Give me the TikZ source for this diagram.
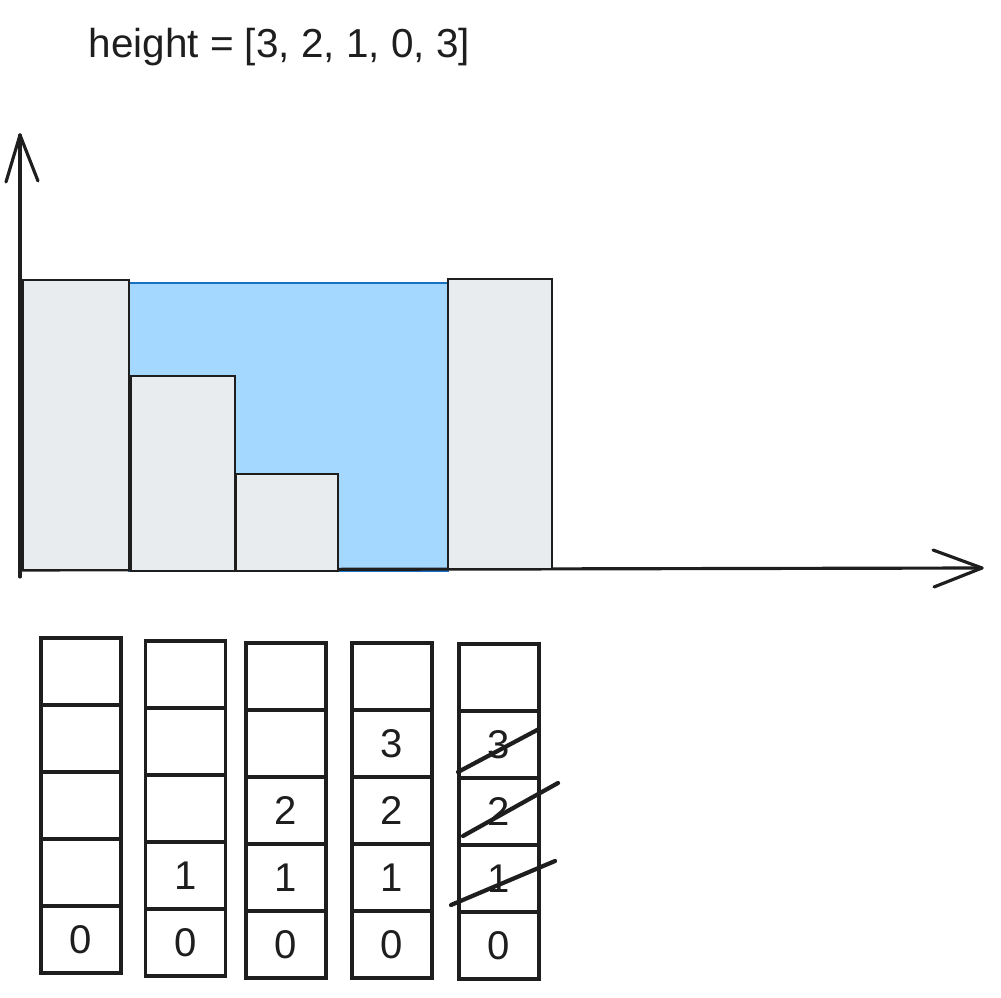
\documentclass[tikz,border=0pt]{standalone}
\usepackage{fontspec}
\setmainfont{Liberation Sans}
\definecolor{barfill}{HTML}{E9ECEF}
\definecolor{waterfill}{HTML}{A5D8FF}
\definecolor{waterline}{HTML}{1971C2}
\definecolor{ink}{HTML}{1E1E1E}
\begin{document}
\begin{tikzpicture}[x=0.01cm,y=-0.01cm,
  bar/.style={draw=ink, fill=barfill, line width=0.6pt},
  water/.style={draw=waterline, fill=waterfill, line width=0.5pt},
  axis/.style={draw=ink, line width=0.9pt, line cap=round, line join=round},
  cell/.style={draw=ink, line width=1.0pt, minimum width=0.8cm, minimum height=0.67cm,
    inner sep=0pt, outer sep=0pt, text=ink, font=\fontsize{11.4}{13}\selectfont},
  strike/.style={draw=ink, line width=1.2pt, line cap=round},
  label/.style={text=ink, font=\fontsize{11.5}{13}\selectfont}]
\useasboundingbox (0,0) rectangle (1001,998);

% title
\node[label, anchor=base west, inner sep=0pt] (title) at (88,58) {height = [3, 2, 1, 0, 3]};

% water
\path[water] (129,283) rectangle (448,571);

% axes
\coordinate (origin) at (20,577);
\coordinate (ytip) at (20,135);
\coordinate (yl) at (6,182);
\coordinate (yr) at (38,181);
\coordinate (xstart) at (20,570);
\coordinate (xtip) at (982,568);
\coordinate (xu) at (933,550);
\coordinate (xd) at (934,587);
\draw[axis] (origin) -- (ytip);
\draw[axis] (yl) -- (ytip) -- (yr);
\draw[axis] (xstart) -- (xtip);
\draw[axis] (xu) -- (xtip) -- (xd);

% bars
\path[bar] (23,280) rectangle (129,570);
\path[bar] (131,376) rectangle (235,571);
\path[bar] (236,474) rectangle (338,571);
\path[bar] (448,279) rectangle (552,569);

% stacks
\foreach \col/\cx/\by/\cnt in {1/81/973/1, 2/185.5/976/2, 3/286/978/3, 4/392/978/4, 5/499/979/4} {
  \foreach \i in {0,...,4} {
    \pgfmathtruncatemacro\show{\i<\cnt ? 1 : 0}
    \node[cell] (c\col-\i) at (\cx, {\by-67*\i-33.5}) {\ifnum\show=1 \i\fi};
  }
}

% strike-outs
\coordinate (s3a) at (458,772);
\coordinate (s3b) at (539,729);
\coordinate (s2a) at (463,836);
\coordinate (s2b) at (558,783);
\coordinate (s1a) at (451,905);
\coordinate (s1b) at (555,861);
\draw[strike] (s3a) -- (s3b);
\draw[strike] (s2a) -- (s2b);
\draw[strike] (s1a) -- (s1b);
\end{tikzpicture}
\end{document}
